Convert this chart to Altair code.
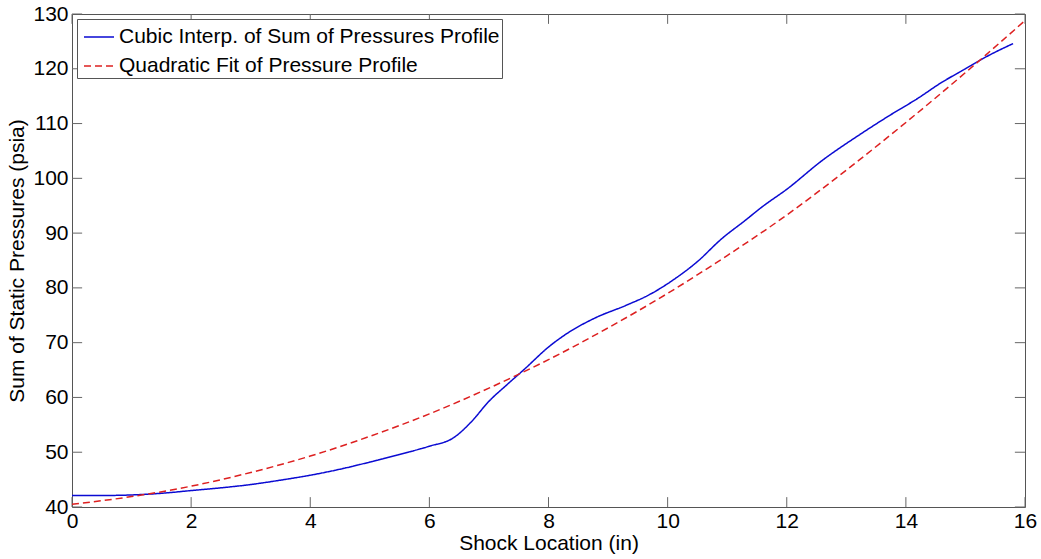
import altair as alt
import pandas as pd

# Blue: cubic interpolation of sum of pressures profile
cubic_x = [0, 0.5, 1, 1.5, 2, 2.5, 3, 3.5, 4, 4.5, 5, 5.5, 6, 6.4, 6.7, 7, 7.3, 7.6,
           8, 8.3, 8.8, 9.3, 9.7, 10.1, 10.5, 10.9, 11.3, 11.6, 12, 12.6, 13.2, 13.7,
           14.2, 14.6, 15.0, 15.3, 15.8]
cubic_y = [42.1, 42.1, 42.2, 42.5, 43.0, 43.5, 44.1, 44.9, 45.8, 46.9, 48.2, 49.6, 51.1,
           52.6, 55.5, 59.3, 62.3, 65.2, 69.2, 71.6, 74.6, 76.8, 78.8, 81.5, 84.8, 88.9,
           92.3, 94.9, 98.0, 103.3, 107.8, 111.3, 114.6, 117.5, 120.0, 121.9, 124.6]

# Red dashed: quadratic fit of pressure profile
quad_x = [0, 1, 2, 3, 4, 5, 6, 7, 8, 9, 10, 11, 12, 13, 14, 15, 16]
quad_y = [40.5, 41.9, 43.8, 46.3, 49.3, 52.9, 57.0, 61.7, 66.9, 72.7, 79.0, 85.9,
          93.3, 101.5, 110.2, 119.3, 128.8]

series_names = ["Cubic Interp. of Sum of Pressures Profile", "Quadratic Fit of Pressure Profile"]
series_colors = ["#0a0ad2", "#dd2020"]

x_ticks = [0, 2, 4, 6, 8, 10, 12, 14, 16]
y_ticks = [40, 50, 60, 70, 80, 90, 100, 110, 120, 130]

df = pd.concat([
    pd.DataFrame({"x": cubic_x, "y": cubic_y, "series": series_names[0], "order": range(len(cubic_x))}),
    pd.DataFrame({"x": quad_x, "y": quad_y, "series": series_names[1], "order": range(len(quad_x))}),
])
xt = pd.DataFrame({"v": x_ticks})
yt = pd.DataFrame({"v": y_ticks})

FONT = "Liberation Sans"
W, H = 953, 493
TICK_GRAY = "#666666"

xscale = alt.Scale(domain=[0, 16], nice=False, zero=False)
yscale = alt.Scale(domain=[40, 130], nice=False, zero=False)

lines = alt.Chart(df).mark_line(strokeWidth=1.5, interpolate="monotone").encode(
    x=alt.X("x:Q", scale=xscale,
            axis=alt.Axis(values=x_ticks, format="d", title="Shock Location (in)", labelFlush=False,
                          labelPadding=3, titlePadding=1)),
    y=alt.Y("y:Q", scale=yscale,
            axis=alt.Axis(values=y_ticks, format="d", title="Sum of Static Pressures (psia)",
                          labelPadding=4, titlePadding=5)),
    color=alt.Color("series:N",
                    scale=alt.Scale(domain=series_names, range=series_colors),
                    legend=alt.Legend(title=None, orient="none", legendX=5, legendY=5)),
    strokeDash=alt.StrokeDash("series:N",
                              scale=alt.Scale(domain=series_names, range=[[1, 0], [7, 4]]),
                              legend=alt.Legend(title=None, orient="none", legendX=5, legendY=5)),
    order="order:Q",
)

bottom_ticks = alt.Chart(xt).mark_rule(color=TICK_GRAY, strokeWidth=1).encode(
    x=alt.X("v:Q", scale=xscale), y=alt.datum(40), y2=alt.datum(41.8))
top_ticks = alt.Chart(xt).mark_rule(color=TICK_GRAY, strokeWidth=1).encode(
    x=alt.X("v:Q", scale=xscale), y=alt.datum(130), y2=alt.datum(128.2))
left_ticks = alt.Chart(yt).mark_rule(color=TICK_GRAY, strokeWidth=1).encode(
    y=alt.Y("v:Q", scale=yscale), x=alt.datum(0), x2=alt.datum(0.17))
right_ticks = alt.Chart(yt).mark_rule(color=TICK_GRAY, strokeWidth=1).encode(
    y=alt.Y("v:Q", scale=yscale), x=alt.datum(16), x2=alt.datum(15.83))

chart = alt.layer(bottom_ticks, top_ticks, left_ticks, right_ticks, lines).properties(
    width=W, height=H,
    autosize=alt.AutoSizeParams(type="none"),
    padding={"left": 72, "top": 14, "right": 16, "bottom": 52},
    background="white",
).configure_view(
    stroke="#555555", strokeWidth=1
).configure_axis(
    grid=False, domain=False, ticks=False, tickSize=0,
    labelFont=FONT, labelFontSize=21, labelColor="black",
    titleFont=FONT, titleFontSize=21, titleFontWeight="normal", titleColor="black",
    labelOverlap=False,
).configure_legend(
    labelFont=FONT, labelFontSize=21, labelColor="black",
    symbolType="stroke", symbolSize=900, symbolStrokeWidth=1.5,
    labelOffset=4, rowPadding=3, padding=2, symbolOffset=4,
    fillColor="white", strokeColor="#555555", cornerRadius=0,
    labelLimit=600,
)

chart.save("out.html", embed_options={"renderer": "svg", "actions": False})
